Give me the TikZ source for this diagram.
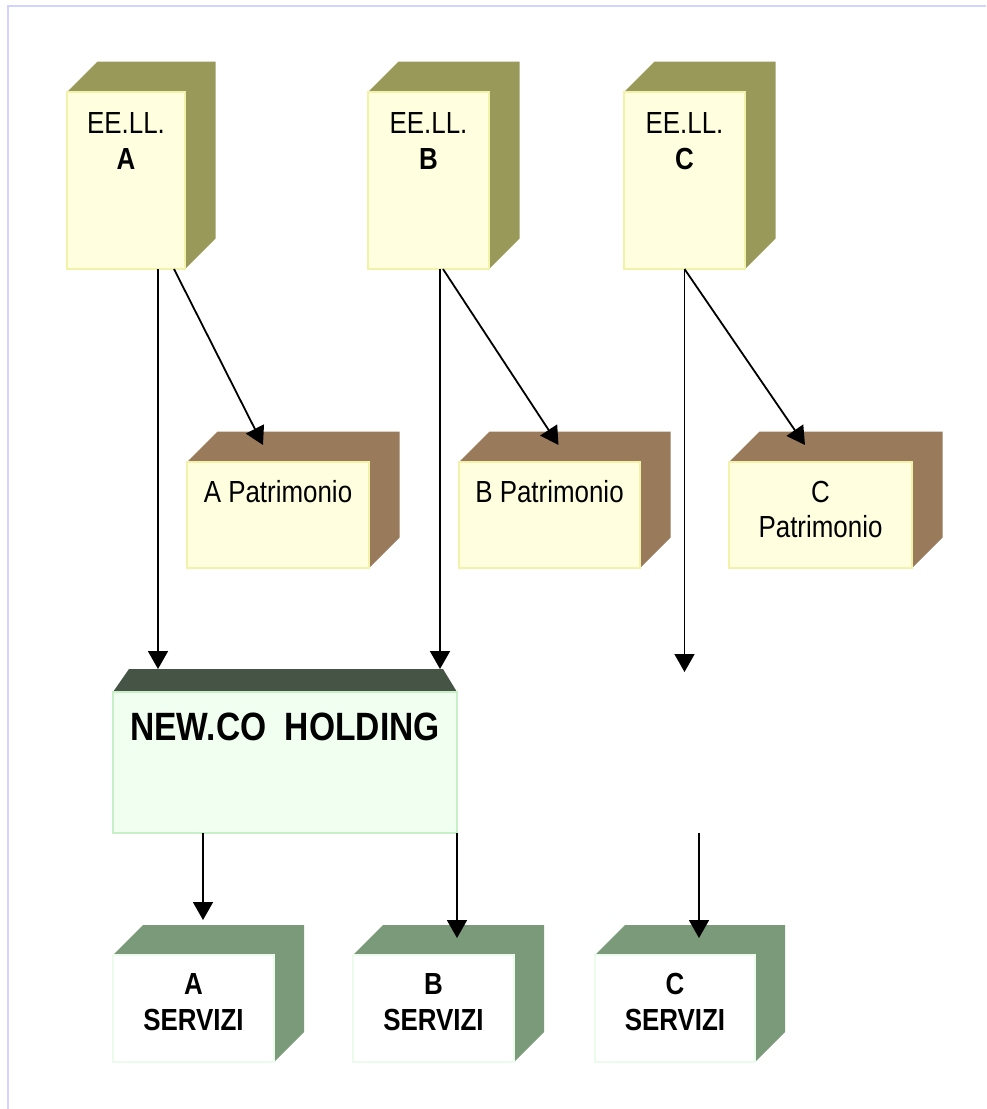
\documentclass[tikz,border=0pt]{standalone}
\usepackage{fontspec}
\newfontfamily\narrowsf[FakeStretch=0.85]{Liberation Sans}
\usetikzlibrary{arrows.meta,calc}
\pgfdeclarelayer{back}
\pgfsetlayers{back,main}

\definecolor{olive}{RGB}{153,153,90}
\definecolor{brownside}{RGB}{153,122,90}
\definecolor{roofgreen}{RGB}{70,84,70}
\definecolor{servgreen}{RGB}{122,154,122}
\definecolor{paleyellow}{RGB}{255,255,224}
\definecolor{yellowedge}{RGB}{242,242,170}
\definecolor{palegreen}{RGB}{240,255,240}
\definecolor{greenedge}{RGB}{200,240,200}
\definecolor{servedge}{RGB}{236,252,236}
\definecolor{framecol}{RGB}{210,210,255}

% #1 name, #2-#5 front face corners (x1,y1,x2,y2), #6 depth, #7 side colour, #8 front style
\newcommand\solidbox[8]{%
  \node[#8, minimum width={(#4-#2)*1pt}, minimum height={(#5-#3)*1pt}]
    (#1) at ({(#2+#4)/2},{(#3+#5)/2}) {};
  \begin{pgfonlayer}{back}
    \fill[#7] (#1.north west) -- ++(#6,-#6)
      -- ([shift={(#6,-#6)}]#1.north east)
      -- ([shift={(#6,-#6)}]#1.south east)
      -- (#1.south east) -- (#1.north east) -- cycle;
  \end{pgfonlayer}
}

\tikzset{
  face/.style={draw, line width=1.8pt, inner sep=0pt, outer sep=0pt},
  eeface/.style={face, fill=paleyellow, draw=yellowedge},
  holdface/.style={face, fill=palegreen, draw=greenedge},
  servface/.style={face, fill=white, draw=servedge},
  lbl/.style={anchor=base, inner sep=0pt, font=\narrowsf\fontsize{30.5}{36}\selectfont},
  blbl/.style={lbl, font=\narrowsf\bfseries\fontsize{30.5}{36}\selectfont},
  arr/.style={draw, line width=1.8pt, -{Triangle[width=20pt,length=18pt]}},
  frame/.style={draw=framecol, line width=2.5pt}
}

\begin{document}
\begin{tikzpicture}[x=1pt,y=-1pt]
\useasboundingbox (0,0) rectangle (986,1109);
\draw[frame] (8,1109) -- (8,6) -- (986,6);

% local authorities
\solidbox{eeA}{67}{92}{185}{269}{30.5}{olive}{eeface}
\solidbox{eeB}{368}{92}{489}{269}{30.5}{olive}{eeface}
\solidbox{eeC}{624}{92}{745}{269}{30.5}{olive}{eeface}
\node[lbl]  (eeAt) at (126,133) {EE.LL.};
\node[blbl] (eeAl) at (126,169) {A};
\node[lbl]  (eeBt) at (428.5,133) {EE.LL.};
\node[blbl] (eeBl) at (428.5,169) {B};
\node[lbl]  (eeCt) at (684.5,133) {EE.LL.};
\node[blbl] (eeCl) at (684.5,169) {C};

% asset companies
\solidbox{patA}{187}{462}{369}{568}{30.5}{brownside}{eeface}
\solidbox{patB}{459}{462}{640}{568}{30.5}{brownside}{eeface}
\solidbox{patC}{729}{462}{912}{568}{30.5}{brownside}{eeface}
\node[lbl] (patAt) at (278,502) {A Patrimonio};
\node[lbl] (patBt) at (549.5,502) {B Patrimonio};
\node[lbl] (patCl) at (820.5,502) {C};
\node[lbl] (patCt) at (820.5,537) {Patrimonio};

% holding
\node[holdface, minimum width=344pt, minimum height=141pt] (holding) at (285,762.5) {};
\begin{pgfonlayer}{back}
  \fill[roofgreen] (holding.north west) -- ++(16,-23)
    -- ([shift={(-14,-23)}]holding.north east) -- (holding.north east) -- cycle;
\end{pgfonlayer}
\node[lbl, font=\narrowsf\bfseries\fontsize{39.5}{44}\selectfont] (holdt) at (285,740) {NEW.CO\ \ HOLDING};

% service companies
\solidbox{servA}{113}{955}{274}{1062}{30}{servgreen}{servface}
\solidbox{servB}{353}{955}{514}{1062}{30}{servgreen}{servface}
\solidbox{servC}{595}{955}{755}{1062}{30}{servgreen}{servface}
\node[blbl] (servAl) at (193.5,994) {A};
\node[blbl] (servAt) at (193.5,1030) {SERVIZI};
\node[blbl] (servBl) at (433.5,994) {B};
\node[blbl] (servBt) at (433.5,1030) {SERVIZI};
\node[blbl] (servCl) at (675,994) {C};
\node[blbl] (servCt) at (675,1030) {SERVIZI};

% connector end points
\coordinate (holdroof) at ([yshift=23pt]holding.north);
\coordinate (aV) at ([xshift=32pt]eeA.south);
\coordinate (aD) at ([xshift=48pt]eeA.south);
\coordinate (bV) at ([xshift=11.5pt]eeB.south);
\coordinate (bD) at ([xshift=14.5pt]eeB.south);
\coordinate (cV) at (eeC.south);
\coordinate (hA) at ([xshift=-82pt]holding.south);
\coordinate (hB) at (holding.south east);
\coordinate (cL) at (699,833);
\coordinate (servAtop) at ([yshift=35pt]servA.north);
\coordinate (servBtop) at ([yshift=17pt]servB.north);
\coordinate (servCtop) at ([yshift=17pt]servC.north);

% connectors
\draw[arr] (aV) -- (aV |- holdroof);
\draw[arr] (aD) -- ([xshift=-15pt,yshift=17pt]patA.north);
\draw[arr] (bV) -- (bV |- holdroof);
\draw[arr] (bD) -- ([xshift=9pt,yshift=17pt]patB.north);
\draw[arr] (cV) -- ([yshift=-3pt]cV |- holdroof);
\draw[arr] (cV) -- ([xshift=-15.5pt,yshift=17pt]patC.north);
\draw[arr] (hA) -- (hA |- servAtop);
\draw[arr] (hB) -- (hB |- servBtop);
\draw[arr] (cL) -- (cL |- servCtop);
\end{tikzpicture}
\end{document}
